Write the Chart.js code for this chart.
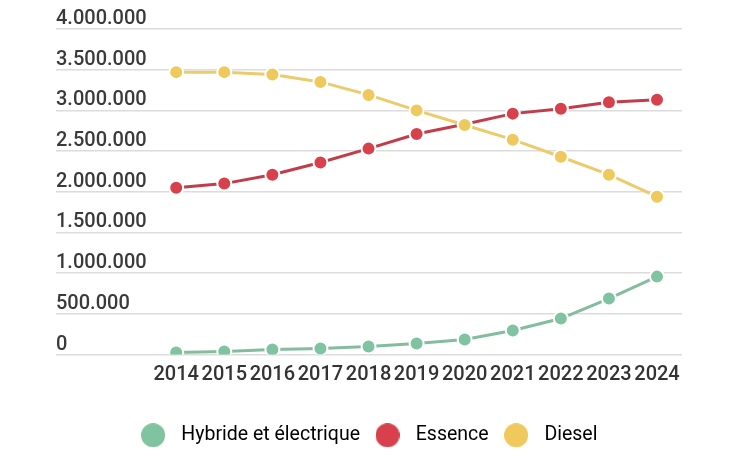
<!DOCTYPE html>
<html>
<head>
<meta charset="utf-8">
<script src="https://cdn.jsdelivr.net/npm/chart.js@4"></script>
<style>
html,body{margin:0;padding:0;background:#fff;}
#wrap{width:733px;height:461px;}
</style>
</head>
<body>
<div id="wrap"><canvas id="c" width="733" height="461"></canvas></div>
<script>
const years = [2014, 2015, 2016, 2017, 2018, 2019, 2020, 2021, 2022, 2023, 2024];
const hybride = [25000, 37000, 61000, 74000, 98000, 135000, 184000, 294000, 442000, 687000, 957000];
const essence = [2050000, 2100000, 2210000, 2360000, 2530000, 2710000, 2830000, 2960000, 3020000, 3100000, 3130000];
const diesel = [3470000, 3470000, 3440000, 3350000, 3190000, 3000000, 2820000, 2640000, 2430000, 2210000, 1940000];
const seriesNames = ['Hybride et électrique', 'Essence', 'Diesel'];
const yTicks = [0, 500000, 1000000, 1500000, 2000000, 2500000, 3000000, 3500000, 4000000];

const pointColors = ['#80c3a1', '#d8414b', '#efc95b'];
const lineColors = ['#84bc9f', '#c23d4a', '#ebcb6c'];

function circleImg(color) {
  const c = document.createElement('canvas');
  c.width = 24; c.height = 24;
  const g = c.getContext('2d');
  g.fillStyle = color;
  g.beginPath(); g.arc(12, 12, 12, 0, Math.PI * 2); g.fill();
  return c;
}
const legendImgs = pointColors.map(circleImg);

function fmt(v) {
  return String(v).replace(/\B(?=(\d{3})+(?!\d))/g, '.');
}

const legendShift = {
  id: 'legendShift',
  beforeInit(chart) {
    const lg = chart.legend;
    if (!lg) return;
    const fit = lg.fit;
    lg.fit = function () { fit.call(this); this.height += 30; };
    const draw = lg.draw;
    lg.draw = function () {
      const ctx = this.ctx;
      ctx.save();
      ctx.translate(-3, 30);
      draw.call(this);
      ctx.restore();
    };
  }
};

const seriesValues = [hybride, essence, diesel];
const orders = [2, 1, 0];
const datasets = seriesValues.map((vals, i) => ({
  label: seriesNames[i],
  data: years.map((y, j) => ({x: y, y: vals[j]})),
  borderColor: lineColors[i],
  backgroundColor: pointColors[i],
  pointBackgroundColor: pointColors[i],
  pointBorderColor: '#ffffff',
  pointBorderWidth: 2,
  pointRadius: 7,
  pointHoverRadius: 7,
  borderWidth: 3,
  tension: 0,
  fill: false,
  order: orders[i],
  pointStyle: 'circle'
}));

new Chart(document.getElementById('c'), {
  type: 'line',
  data: {datasets},
  plugins: [legendShift],
  options: {
    responsive: false,
    animation: false,
    devicePixelRatio: 1,
    layout: {padding: {left: 56, right: 51, top: 29, bottom: 6}},
    plugins: {
      tooltip: {enabled: false},
      legend: {
        position: 'bottom',
        labels: {
          usePointStyle: true,
          pointStyleWidth: 37,
          boxHeight: 20,
          padding: 9,
          color: '#333',
          font: {family: 'Roboto', size: 19.5},
          sort: (a, b) => a.datasetIndex - b.datasetIndex,
          generateLabels: (chart) => chart.data.datasets.map((ds, i) => ({
            text: ds.label,
            fillStyle: pointColors[i],
            strokeStyle: pointColors[i],
            lineWidth: 0,
            pointStyle: legendImgs[i],
            hidden: false,
            datasetIndex: i
          }))
        }
      }
    },
    scales: {
      x: {
        type: 'linear',
        min: 2011.5,
        max: 2024.52,
        afterBuildTicks: (s) => { s.ticks = years.map(v => ({value: v})); },
        grid: {display: false},
        border: {display: false},
        ticks: {
          autoSkip: false,
          maxRotation: 0,
          padding: 0,
          color: '#333',
          font: {family: 'Roboto', size: 20, weight: '500'},
          callback: (v) => String(v)
        }
      },
      y: {
        min: 0,
        max: 4000000,
        afterBuildTicks: (s) => { s.ticks = yTicks.map(v => ({value: v})); },
        grid: {color: '#dcdcdc', lineWidth: 1.5, drawTicks: false},
        border: {display: false},
        ticks: {
          mirror: true,
          padding: 0,
          labelOffset: -10,
          color: '#3a3a3a',
          font: {family: 'Roboto', size: 20, weight: '500'},
          callback: (v) => fmt(v)
        }
      }
    }
  }
});
</script>
</body>
</html>
